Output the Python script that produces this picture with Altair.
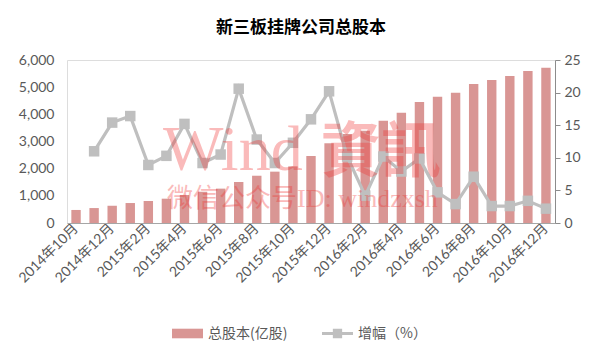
import altair as alt
import pandas as pd

months = [
    "2014年10月", "2014年11月", "2014年12月",
    "2015年1月", "2015年2月", "2015年3月", "2015年4月", "2015年5月", "2015年6月",
    "2015年7月", "2015年8月", "2015年9月", "2015年10月", "2015年11月", "2015年12月",
    "2016年1月", "2016年2月", "2016年3月", "2016年4月", "2016年5月", "2016年6月",
    "2016年7月", "2016年8月", "2016年9月", "2016年10月", "2016年11月", "2016年12月",
]
total_shares = [480, 550, 635, 735, 810, 895, 1030, 1150, 1265, 1510, 1740, 1890,
                2085, 2466, 2935, 3276, 3400, 3767, 4060, 4455, 4650, 4797, 5113,
                5261, 5411, 5595, 5718]
growth_months = months[1:]
growth_pct = [11.0, 15.4, 16.4, 8.9, 10.3, 15.2, 9.2, 10.5, 20.6, 12.8, 9.2, 12.3,
              15.9, 20.2, 10.2, 4.2, 10.2, 7.9, 9.9, 4.7, 2.9, 7.1, 2.6, 2.6, 3.4, 2.2]
left_ticks = [0, 1000, 2000, 3000, 4000, 5000, 6000]
right_ticks = [0, 5, 10, 15, 20, 25]
series_bar = "总股本(亿股)"
series_line = "增幅（%）"
title_text = "新三板挂牌公司总股本"
watermark_a = ["Wind"]
watermark_b = ["資訊"]
watermark_c = ["微信公众号ID: windzxsh"]

BAR = "#D99694"
GRAY = "#BFBFBF"
LABEL = "#595959"
NUM_FONT = "Lato, Noto Sans CJK SC"
CJK = "Noto Sans CJK SC"

bars_df = pd.DataFrame({"month": months, "total": total_shares, "series": series_bar})
growth_df = pd.DataFrame({"month": growth_months, "growth": growth_pct, "series": series_line})

x_enc = alt.X(
    "month:N", sort=months, title=None,
    scale=alt.Scale(paddingInner=0.48, paddingOuter=0.24),
    axis=alt.Axis(values=months[::2], labelAngle=315, labelAlign="right",
                  labelBaseline="middle", labelFont=NUM_FONT, labelFontSize=14,
                  labelColor=LABEL, labelPadding=3, ticks=False,
                  domainColor="#A6A6A6", domainWidth=1),
)

bars = alt.Chart(bars_df).mark_bar(color=BAR).encode(
    x=x_enc,
    y=alt.Y("total:Q", title=None,
            scale=alt.Scale(domain=[0, 6000], nice=False),
            axis=alt.Axis(values=left_ticks, format=",.0f", domain=False, ticks=False,
                          grid=False, labelFont=NUM_FONT, labelFontSize=14,
                          labelColor=LABEL, labelPadding=13)),
    color=alt.Color("series:N",
                    scale=alt.Scale(domain=[series_bar], range=[BAR]),
                    legend=alt.Legend(orient="none", legendX=105, legendY=258,
                                      title=None, direction="horizontal",
                                      symbolType="M-1,-0.31H1V0.31H-1Z",
                                      symbolSize=961, symbolStrokeWidth=0,
                                      labelFont=CJK, labelFontSize=14,
                                      labelColor=LABEL, labelOffset=5)),
)

y_right = alt.Y("growth:Q", title=None,
                scale=alt.Scale(domain=[0, 25], nice=False),
                axis=alt.Axis(orient="right", values=right_ticks, grid=False,
                              labelOverlap=False,
                              domainColor="#8C8C8C", tickColor="#8C8C8C",
                              tickSize=5, labelFont=NUM_FONT, labelFontSize=14,
                              labelColor=LABEL, labelPadding=4))

line = alt.Chart(growth_df).mark_line(color=GRAY, strokeWidth=3.2).encode(
    x=alt.X("month:N", sort=months),
    y=y_right,
)
points = alt.Chart(growth_df).mark_point(shape="square", filled=True, size=110,
                                         opacity=1).encode(
    x=alt.X("month:N", sort=months),
    y=y_right,
    color=alt.Color("series:N",
                    scale=alt.Scale(domain=[series_line], range=[GRAY]),
                    legend=alt.Legend(orient="none", legendX=255, legendY=258,
                                      title=None, direction="horizontal",
                                      symbolType="M-1,-0.1H1V0.1H-1Z M-0.3,-0.3H0.3V0.3H-0.3Z",
                                      symbolSize=961, symbolStrokeWidth=0,
                                      labelFont=CJK, labelFontSize=14,
                                      labelColor=LABEL, labelOffset=5)),
)

wm_a = alt.Chart(pd.DataFrame({"t": watermark_a})).mark_text(
    font="Liberation Serif", fontSize=64, color="#F03030",
    opacity=0.33, align="left", baseline="alphabetic",
).encode(x=alt.value(96), y=alt.value(110), text="t:N")
wm_b = alt.Chart(pd.DataFrame({"t": watermark_b})).mark_text(
    font="Noto Sans CJK TC", fontSize=60, fontWeight="bold", color="#F03030",
    opacity=0.33, align="left", baseline="alphabetic",
).encode(x=alt.value(254), y=alt.value(112), text="t:N")
wm_c = alt.Chart(pd.DataFrame({"t": watermark_c})).mark_text(
    font="Liberation Serif, Noto Sans CJK SC", fontSize=26, color="#F03030",
    opacity=0.33, align="left", baseline="alphabetic",
).encode(x=alt.value(100), y=alt.value(147), text="t:N")

chart = alt.layer(
    bars, alt.layer(line, points), wm_a, wm_b, wm_c
).resolve_scale(
    y="independent", color="independent"
).properties(
    width=488, height=163,
    padding={"left": 59, "top": 52, "right": 38, "bottom": 129},
    autosize=alt.AutoSizeParams(type="none"),
    title=alt.TitleParams(title_text, fontSize=17, font=CJK, fontWeight="bold",
                          color="#000000", anchor="middle", dx=-10, offset=16),
).configure_view(stroke=None).configure(background="white")

chart.save("out.html", embed_options={"renderer": "svg", "actions": False})
